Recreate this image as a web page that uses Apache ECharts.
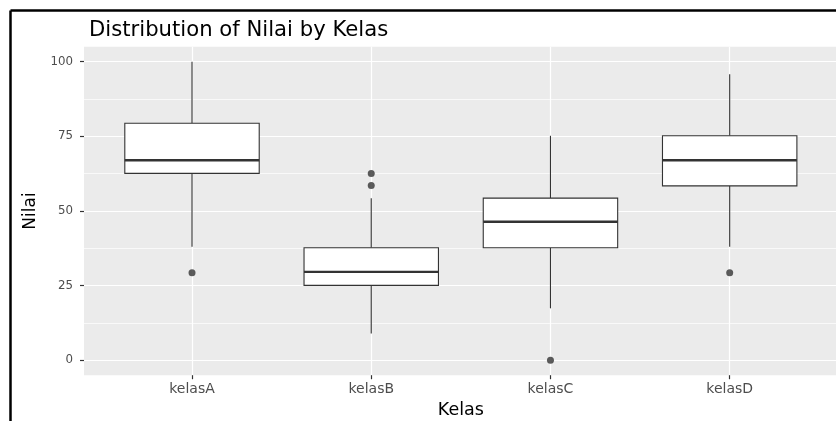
<!DOCTYPE html>
<html>
<head>
<meta charset="utf-8">
<script src="https://cdn.jsdelivr.net/npm/echarts@6/dist/echarts.min.js"></script>
<style>
html,body{margin:0;padding:0;background:#fff;}
#chart{width:836px;height:421px;}
</style>
</head>
<body>
<div id="chart"></div>
<script>
// ---- data ----
const categories = ['kelasA', 'kelasB', 'kelasC', 'kelasD'];
const lowerWhisker = [38.0, 9.0, 17.4, 38.0];
const q1 = [62.6, 25.1, 37.7, 58.4];
const median = [67.0, 29.6, 46.4, 67.0];
const q3 = [79.4, 37.7, 54.3, 75.2];
const upperWhisker = [100, 54.3, 75.2, 95.8];
const outlierCats = ['kelasA', 'kelasB', 'kelasB', 'kelasC', 'kelasD'];
const outlierVals = [29.3, 62.6, 58.5, 0, 29.3];
const yTicks = [0, 25, 50, 75, 100];

const boxData = categories.map((c, i) => [i, lowerWhisker[i], q1[i], median[i], q3[i], upperWhisker[i]]);
const outlierData = outlierCats.map((c, i) => [c, outlierVals[i]]);

const INK = '#333333';
function renderBox(params, api) {
  const x = api.value(0);
  const lo = api.coord([x, api.value(1)]);
  const b1 = api.coord([x, api.value(2)]);
  const md = api.coord([x, api.value(3)]);
  const b3 = api.coord([x, api.value(4)]);
  const hi = api.coord([x, api.value(5)]);
  const bw = api.size([1, 0])[0] * 0.75;
  const cx = lo[0];
  const ls = { stroke: INK, lineWidth: 1.1 };
  return {
    type: 'group',
    children: [
      { type: 'line', shape: { x1: cx, y1: hi[1], x2: cx, y2: b3[1] }, style: ls },
      { type: 'line', shape: { x1: cx, y1: b1[1], x2: cx, y2: lo[1] }, style: ls },
      { type: 'rect', shape: { x: cx - bw / 2, y: b3[1], width: bw, height: b1[1] - b3[1] },
        style: { fill: '#ffffff', stroke: INK, lineWidth: 1.1 } },
      { type: 'line', shape: { x1: cx - bw / 2, y1: md[1], x2: cx + bw / 2, y2: md[1] },
        style: { stroke: INK, lineWidth: 2.3 } }
    ]
  };
}

const FONT = '"DejaVu Sans", "Liberation Sans", Arial, sans-serif';
const chart = echarts.init(document.getElementById('chart'), null, { renderer: 'canvas' });
chart.setOption({
  backgroundColor: '#ffffff',
  animation: false,
  title: {
    text: 'Distribution of Nilai by Kelas',
    left: 84, top: 15,
    textStyle: { fontFamily: FONT, fontSize: 21.2, fontWeight: 'normal', color: '#000' }
  },
  graphic: [
    { type: 'line', shape: { x1: 10.5, y1: 10.5, x2: 836, y2: 10.5 }, style: { stroke: '#000', lineWidth: 2.5 } },
    { type: 'line', shape: { x1: 10.5, y1: 10.5, x2: 10.5, y2: 421 }, style: { stroke: '#000', lineWidth: 2.5 } }
  ],
  grid: [
    { left: 84, right: 0, top: 46.8, bottom: 45.8, show: true, backgroundColor: '#ebebeb', borderWidth: 0,
      containLabel: false, outerBoundsMode: 'none' },
    { left: 84, right: 0, top: 61.7, bottom: 60.7, containLabel: false, outerBoundsMode: 'none' },
    { left: 102.4, right: 16.7, top: 46.8, bottom: 45.8, containLabel: false, outerBoundsMode: 'none' }
  ],
  xAxis: [
    { gridIndex: 0, type: 'value', show: false, min: 0, max: 1 },
    { gridIndex: 1, type: 'value', show: false, min: 0, max: 1 },
    {
      gridIndex: 2, type: 'category', data: categories, position: 'bottom',
      name: 'Kelas', nameLocation: 'middle', nameGap: 23,
      nameTextStyle: { fontFamily: FONT, fontSize: 17.5, color: '#000' },
      axisLine: { show: true, onZero: false, lineStyle: { color: 'rgba(0,0,0,0)', width: 0 } },
      axisTick: { show: true, alignWithLabel: true, length: 4, lineStyle: { color: INK, width: 1.2 } },
      axisLabel: { margin: 7, fontFamily: FONT, fontSize: 14, color: '#4d4d4d' },
      splitLine: { show: true, alignWithLabel: true, lineStyle: { color: '#ffffff', width: 1.2 } }
    }
  ],
  yAxis: [
    { gridIndex: 0, type: 'value', show: false, min: -5, max: 105 },
    {
      gridIndex: 1, type: 'value', min: 0, max: 100, interval: 25,
      name: 'Nilai', nameLocation: 'middle', nameGap: 45, nameRotate: 90,
      nameTextStyle: { fontFamily: FONT, fontSize: 17, color: '#000' },
      axisLine: { show: false },
      axisTick: { show: true, length: 4, lineStyle: { color: INK, width: 1.2 } },
      axisLabel: { margin: 11, fontFamily: FONT, fontSize: 11.8, color: '#4d4d4d',
        formatter: v => (yTicks.indexOf(v) >= 0 ? String(v) : '') },
      splitLine: { show: true, lineStyle: { color: '#ffffff', width: 1.2 } },
      minorTick: { show: false, splitNumber: 2 },
      minorSplitLine: { show: true, lineStyle: { color: '#ffffff', width: 0.7 } }
    },
    { gridIndex: 2, type: 'value', show: false, min: -5, max: 105, splitLine: { show: false } }
  ],
  series: [
    {
      type: 'custom', xAxisIndex: 2, yAxisIndex: 2,
      renderItem: renderBox,
      encode: { x: 0, y: [1, 2, 3, 4, 5] },
      data: boxData, z: 3
    },
    {
      type: 'scatter', xAxisIndex: 2, yAxisIndex: 2,
      data: outlierData, symbol: 'circle', symbolSize: 7,
      itemStyle: { color: INK }, z: 4, clip: false
    }
  ]
});
</script>
</body>
</html>
